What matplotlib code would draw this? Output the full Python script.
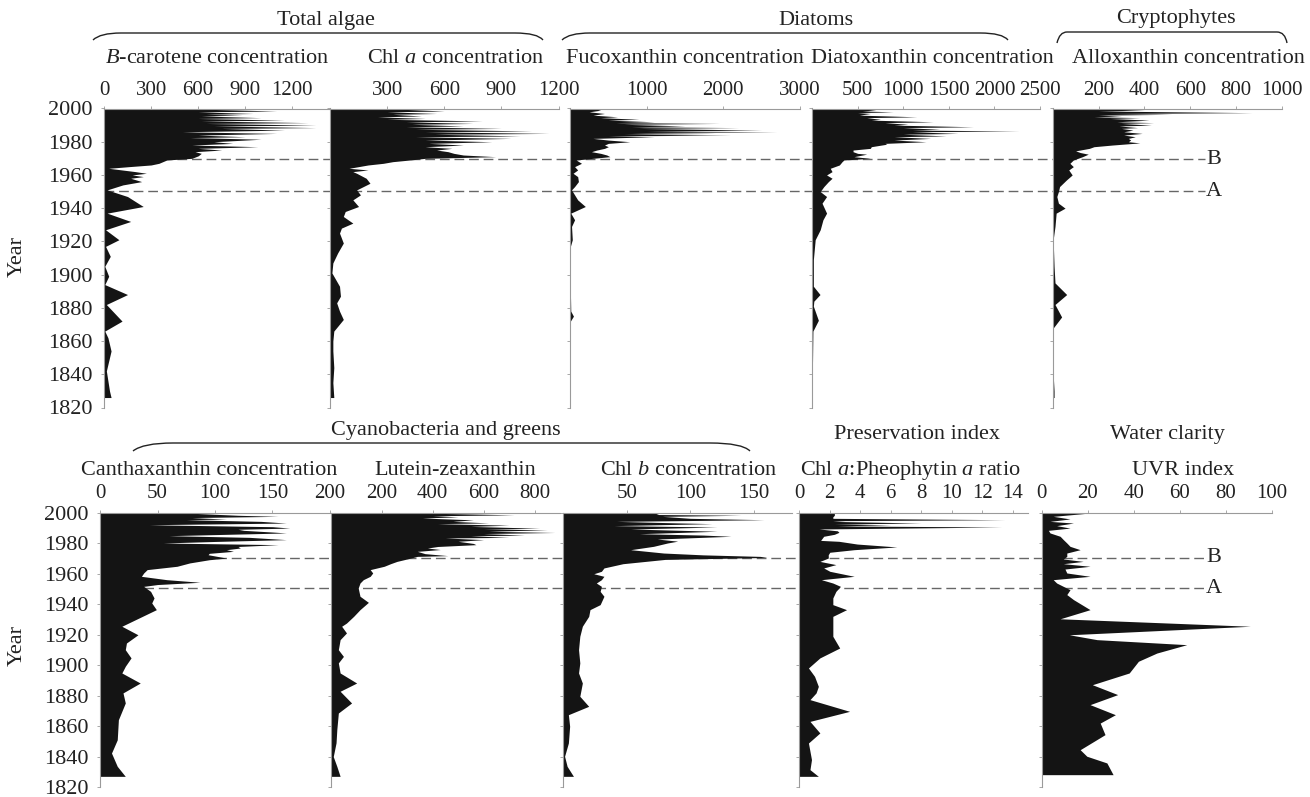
import matplotlib
matplotlib.use("Agg")
import matplotlib.pyplot as plt
from matplotlib.path import Path
from matplotlib.patches import PathPatch
from matplotlib.transforms import blended_transform_factory

plt.rcParams['font.family'] = 'Liberation Serif'
plt.rcParams['mathtext.fontset'] = 'custom'
plt.rcParams['mathtext.rm'] = 'Liberation Serif'
plt.rcParams['mathtext.it'] = 'Liberation Serif:italic'

# ---- data ----
bcar_year = [2000, 1998.5, 1998, 1997, 1996.5, 1996, 1995.5, 1994.5, 1994, 1993, 1992.5, 1991.5, 1991,
             1990, 1989.5, 1988.5, 1988, 1987, 1986, 1985, 1984, 1983, 1982.5, 1981.5, 1980, 1979, 1978,
             1977, 1976, 1975, 1974, 1973, 1971.5, 1970, 1969, 1967, 1966, 1965, 1964, 1962, 1961, 1960,
             1959, 1958, 1956, 1954, 1951, 1947, 1941, 1937, 1932, 1927, 1921, 1917, 1911, 1905, 1899,
             1894, 1888, 1882, 1872, 1866, 1862, 1854, 1848, 1842, 1836, 1830, 1826]
bcar_val = [450, 1100, 600, 950, 650, 880, 620, 1000, 600, 1150, 620, 1300, 650,
            1350, 700, 1350, 750, 1150, 500, 1100, 600, 900, 550, 1000, 700, 820, 560,
            980, 600, 750, 580, 620, 600, 560, 400, 350, 300, 160, 30, 200, 270, 180,
            250, 170, 240, 120, 20, 150, 250, 20, 170, 10, 95, 10, 40, 5, 30,
            5, 150, 15, 115, 5, 25, 45, 30, 15, 25, 35, 45]

chla_year = [2000, 1998.5, 1998, 1997, 1996.5, 1995.5, 1995, 1994, 1993.5, 1992.5, 1992, 1991, 1990.5,
             1989.5, 1989, 1988, 1987.5, 1986.5, 1986, 1985, 1984.5, 1983.5, 1983, 1982, 1981, 1980,
             1979, 1978, 1977, 1976, 1975, 1974, 1973, 1972, 1971, 1970, 1969, 1968, 1967, 1966, 1965,
             1964, 1963, 1962, 1961, 1958, 1955, 1951, 1948, 1945, 1941, 1938, 1935, 1931, 1928, 1925,
             1919, 1913, 1907, 1901, 1897, 1893, 1887, 1883, 1878, 1873, 1866, 1860, 1854, 1844, 1835,
             1826]
chla_val = [280, 600, 300, 560, 330, 480, 250, 500, 300, 800, 400, 750, 430,
            700, 400, 900, 450, 1060, 500, 1150, 550, 1000, 450, 950, 500, 850,
            520, 700, 500, 640, 560, 620, 650, 700, 870, 500, 420, 330, 280, 200, 150,
            100, 200, 120, 140, 190, 210, 140, 160, 120, 150, 80, 70, 120, 60, 50,
            70, 40, 15, 10, 30, 50, 55, 35, 50, 70, 20, 15, 15, 20, 15,
            20]

fuco_year = [2000, 1999, 1998, 1997, 1996, 1995, 1994.5, 1993.5, 1993, 1992, 1991.5, 1991, 1990.5,
             1989.5, 1989, 1988.5, 1988, 1987, 1986.5, 1986, 1985.5, 1985, 1984.5, 1984, 1983.5, 1983,
             1982, 1981, 1980, 1979, 1978, 1977, 1976, 1975, 1974, 1973, 1972, 1971, 1970, 1969, 1967,
             1965, 1963, 1961, 1959, 1956, 1953, 1951, 1945, 1941, 1937, 1933, 1929, 1921, 1917, 1905,
             1890, 1878, 1875, 1872, 1860, 1826]
fuco_val = [300, 400, 250, 450, 300, 620, 400, 900, 500, 1100, 600, 1950, 700,
            1500, 800, 2200, 900, 2500, 1000, 2700, 800, 1900, 700, 2100, 500, 1100,
            300, 500, 780, 500, 450, 500, 450, 350, 280, 400, 480, 520, 300, 80, 150,
            60, 100, 40, 100, 110, 60, 20, 100, 200, 10, 60, 20, 30, 5, 5,
            5, 10, 45, 5, 3, 3]

diato_year = [2000, 1999, 1998.5, 1998, 1997.5, 1997, 1996, 1995, 1994.5, 1993.5, 1993, 1992, 1991.5,
              1990.5, 1990, 1989, 1988.5, 1987.5, 1987, 1986.5, 1986, 1985, 1984.5, 1983.5, 1983, 1982,
              1981, 1980, 1979, 1978.5, 1977, 1976, 1975, 1974, 1973, 1972.5, 1971, 1970, 1969, 1968,
              1966, 1964, 1962, 1960, 1958, 1956, 1953, 1950, 1947, 1943, 1937, 1933, 1927, 1921, 1909,
              1893, 1888, 1884, 1881, 1872.5, 1866, 1845, 1826]
diato_val = [480, 700, 550, 890, 500, 640, 520, 1150, 600, 750, 650, 1330, 800,
             1050, 900, 1770, 1000, 1400, 1100, 2270, 1100, 1600, 1000, 1470, 900, 1300,
             900, 1250, 800, 820, 650, 640, 450, 450, 500, 600, 460, 640, 350, 330,
             300, 200, 220, 160, 220, 180, 130, 90, 160, 110, 160, 120, 90, 35, 15,
             15, 88, 20, 15, 70, 10, 5, 5]

allo_year = [2000, 1999, 1998.5, 1997.5, 1997, 1996.5, 1996, 1995.5, 1995, 1994.5, 1994, 1993, 1992,
             1991.5, 1991, 1990, 1989.5, 1988.5, 1988, 1987, 1986, 1985, 1984, 1983, 1982, 1981, 1980,
             1979.3, 1978, 1977, 1976, 1974.5, 1973.5, 1972.5, 1971, 1969, 1967, 1965, 1963, 1960,
             1957, 1953, 1950, 1947, 1943, 1940, 1937, 1929, 1921, 1905, 1895, 1888, 1882, 1874.5,
             1868, 1850, 1840, 1830, 1826]
allo_val = [150, 400, 200, 870, 250, 520, 200, 300, 180, 380, 250, 420, 280,
            440, 300, 430, 290, 370, 300, 350, 310, 390, 310, 360, 330, 340, 330,
            380, 260, 180, 160, 100, 120, 155, 130, 90, 75, 90, 70, 85,
            60, 30, 25, 18, 25, 54, 15, 10, 2, 6, 10, 61, 10, 39,
            3, 3, 2, 6, 6]

cantha_year = [2000, 1998.5, 1997.8, 1997, 1996, 1995.6, 1994.5, 1993.4, 1992.3, 1991, 1990.1, 1989.3,
               1988.6, 1987.5, 1986.9, 1985.1, 1984, 1982.5, 1981.3, 1980.3, 1979.2, 1978, 1977, 1975.9,
               1974.8, 1973.5, 1972.6, 1971.5, 1970.4, 1969.3, 1967.2, 1965, 1962.8, 1960.6, 1958.4,
               1956.2, 1954.5, 1953, 1951.8, 1948.5, 1944.2, 1940.9, 1936.5, 1925.6, 1920, 1914.6,
               1910.2, 1904.8, 1899.3, 1894.9, 1888.3, 1881.8, 1875.2, 1864.2, 1851, 1842.3, 1833.6,
               1827]
cantha_val = [75, 120, 155, 80, 110, 75, 140, 162, 43, 150, 165, 120,
              125, 150, 162, 60, 130, 162, 100, 55, 155, 120, 122, 110,
              116, 95, 94, 102, 110, 95, 78, 67, 41, 38, 36,
              58, 87, 50, 38, 44, 47, 45, 49, 19, 33, 23,
              22, 27, 22, 19, 35, 20, 22, 16, 15, 10, 15,
              22]

lutein_year = [2000, 1998.8, 1998.2, 1997.5, 1996.7, 1995.5, 1994.5, 1993.5, 1993, 1992, 1991.2, 1990,
               1989.5, 1989, 1988, 1987.2, 1986.5, 1985.5, 1985, 1984, 1983.6, 1982.5, 1981.4, 1980,
               1979.2, 1978, 1977, 1976, 1974.8, 1973.3, 1972, 1971.5, 1969.8, 1968.2, 1966.7, 1965,
               1962.8, 1960.6, 1958.4, 1956.2, 1954, 1950.7, 1945.3, 1941.3, 1936.5, 1932.1, 1927.7,
               1925.6, 1921.2, 1916.8, 1910.2, 1905.8, 1901.5, 1894.9, 1888.3, 1882.9, 1875.2, 1868.6,
               1857.7, 1849, 1840, 1833.6, 1827]
lutein_val = [350, 720, 400, 500, 360, 560, 480, 620, 420, 700, 550, 820,
              600, 850, 620, 880, 600, 760, 550, 700, 450, 600, 500, 560,
              570, 420, 380, 430, 340, 370, 460, 340, 300, 260, 235, 210,
              155, 165, 155, 128, 115, 108, 115, 148, 115, 90, 62,
              43, 62, 37, 30, 50, 30, 37, 102, 37, 82, 30,
              24, 21, 10, 24, 37]

chlb_year = [2000, 1999, 1998.5, 1997.8, 1996.5, 1995.6, 1994.5, 1993.5, 1993, 1991.7, 1990.8, 1989.5,
             1988, 1986.4, 1985.5, 1984.7, 1982.9, 1981.5, 1980.3, 1978.1, 1975.9, 1973.7, 1972.5,
             1971.5, 1970.8, 1969.5, 1966.7, 1963.9, 1961.7, 1960.1, 1958.4, 1956.2, 1954, 1951.8,
             1948.5, 1945.3, 1939.8, 1936.5, 1932.1, 1925.6, 1919, 1910.2, 1901.5, 1894.9, 1888.3,
             1879.6, 1873, 1867.5, 1859.9, 1848.9, 1840.2, 1833.6, 1827]
chlb_val = [72, 75, 140, 78, 100, 158, 42, 90, 117, 40, 121, 53,
            121, 60, 110, 132, 74, 90, 82, 71, 53, 79, 110,
            155, 160, 80, 47, 32, 30, 24, 32, 30, 26, 30,
            29, 32, 29, 21, 20, 15, 13, 12, 13, 12, 15,
            13, 20, 4, 5, 4, 1, 3, 8]

pheo_year = [2000, 1998.5, 1997.5, 1996.5, 1995.6, 1995, 1994.5, 1993.4, 1992.8, 1992.3, 1991.5, 1990.8,
             1989.5, 1988.3, 1987.3, 1986, 1984.7, 1982, 1981.4, 1979.6, 1977.7, 1975.9, 1974.2, 1972.6,
             1970.4, 1968.2, 1966.1, 1963.9, 1961.7, 1958.4, 1956.2, 1954, 1951.8, 1948.5, 1944.2,
             1939.8, 1936.5, 1932.1, 1925.6, 1919, 1911.3, 1904.8, 1898.2, 1892.7, 1886.1, 1881.8,
             1877.4, 1869.7, 1863.1, 1855.5, 1848.9, 1838, 1831.4, 1827]
pheo_val = [2.3, 2.3, 2.2, 2.2, 13.5, 3, 2.2, 8, 2.3, 6, 2.5, 13.3,
            1.3, 2.5, 2.6, 2.3, 1.6, 1.4, 2.6, 3.8, 6.4, 3.6, 2, 1.9,
            1.9, 1.35, 2.4, 1.6, 2, 3.6, 1.45, 2.2, 2.7, 2.4, 2.2,
            2.2, 3.1, 2.2, 2.2, 2.2, 2.65, 1.35, 0.6, 1, 1.25, 1.1,
            0.7, 3.3, 0.7, 1.35, 0.6, 0.8, 0.7, 1.25]

uvr_year = [2000, 1997.8, 1996.1, 1994.5, 1993.4, 1991.7, 1990.1, 1988.6, 1986.9, 1984.7, 1982.5,
            1980.3, 1978.1, 1975.9, 1973.7, 1971.5, 1969.8, 1968.2, 1966.7, 1965, 1963.2, 1960.6,
            1958.4, 1956.2, 1954, 1951.8, 1949.6, 1946.4, 1943.1, 1936.5, 1930.5, 1925.6, 1920,
            1916.8, 1913.5, 1908, 1902.6, 1894.9, 1887.2, 1880.7, 1874.1, 1867.5, 1862, 1854.4,
            1844.5, 1840.2, 1835.8, 1828.1]
uvr_val = [21, 5, 12.3, 3.6, 13.8, 6.5, 12.3, 2.9, 3.6, 8, 9.4,
           10.9, 12.3, 16.7, 10.9, 10.9, 9.4, 18, 9.4, 21, 10.1, 10.9,
           21, 5, 6.5, 9.4, 12.3, 10.9, 13.8, 21, 8, 90.6, 12,
           24, 63, 50, 42, 38, 22, 33, 21, 32, 25.4, 27.5,
           16.7, 19.6, 28.3, 31]

zone_labels = ['B', 'A']
zone_years_top = [1969.3, 1950.3]
zone_years_bottom = [1970.6, 1950.5]

W, H = 1310, 797
FS = 16      # titles
TFS = 15     # x tick labels
GREY = '#9a9a9a'

fig = plt.figure(figsize=(W / 100, H / 100), dpi=100)

# background axes in pixel units: headings, braces, zone lines
bg = fig.add_axes([0, 0, 1, 1], zorder=-1)
bg.set_xlim(0, W)
bg.set_ylim(H, 0)
bg.axis('off')
bg.patch.set_alpha(0)


def panel(x0, x1, y0, y1, years, vals, xmax, ticks, show_years, pad):
    ax = fig.add_axes([x0 / W, 1 - y1 / H, (x1 - x0) / W, (y1 - y0) / H])
    ax.set_facecolor('none')
    ax.fill_betweenx(years, 0, vals, color='#141414', linewidth=0)
    ax.set_xlim(0, xmax)
    ax.set_ylim(1820, 2000)
    ax.xaxis.tick_top()
    ax.set_xticks(ticks)
    ax.set_yticks(range(1820, 2001, 20))
    ax.spines['right'].set_visible(False)
    ax.spines['bottom'].set_visible(False)
    for s in ('top', 'left'):
        ax.spines[s].set_color(GREY)
        ax.spines[s].set_linewidth(0.8)
    ax.tick_params(axis='x', direction='out', length=2.5, width=0.6, color=GREY,
                   labelsize=TFS, pad=pad, labelcolor='#222')
    ax.tick_params(axis='y', direction='out', length=2.5, width=0.6, color=GREY,
                   labelsize=FS, pad=6, labelcolor='#222', labelleft=show_years)
    return ax


top = (108.5, 407.5)
bot = (513, 787)

a1 = panel(104, 330, *top, bcar_year, bcar_val, 1440, [0, 300, 600, 900, 1200], True, 3.5)
panel(330, 558.5, *top, chla_year, chla_val, 1200, [300, 600, 900, 1200], False, 3.5)
panel(570, 800, *top, fuco_year, fuco_val, 3000, [1000, 2000, 3000], False, 3.5)
panel(812, 1040, *top, diato_year, diato_val, 2500, [500, 1000, 1500, 2000, 2500], False, 3.5)
panel(1052.7, 1282, *top, allo_year, allo_val, 1000, [200, 400, 600, 800, 1000], False, 3.5)

a6 = panel(100, 330, *bot, cantha_year, cantha_val, 200, [0, 50, 100, 150, 200], True, 4.5)
panel(330.7, 560, *bot, lutein_year, lutein_val, 900, [200, 400, 600, 800], False, 4.5)
panel(563.3, 792, *bot, chlb_year, chlb_val, 180, [50, 100, 150], False, 4.5)
panel(799.3, 1028, *bot, pheo_year, pheo_val, 15, [0, 2, 4, 6, 8, 10, 12, 14], False, 4.5)
panel(1041.7, 1272, *bot, uvr_year, uvr_val, 100, [0, 20, 40, 60, 80, 100], False, 4.5)

# zone lines A / B (drawn behind the black fills)
for row_ax, zyears, xstart in ((a1, zone_years_top, 104), (a6, zone_years_bottom, 100)):
    tr = blended_transform_factory(bg.transData, row_ax.transData)
    for lab, yr in zip(zone_labels, zyears):
        bg.plot([xstart, 1205], [yr, yr], transform=tr, color='#666666', lw=1.0,
                dashes=(7, 3.5), zorder=1)
        bg.text(1206, yr, lab, transform=tr, fontsize=FS, ha='left', va='center',
                color='#222')


def brace(xa, xb, y_line, y_end, r):
    verts = [(xa, y_end), (xa + 0.25 * r, y_line), (xa + r, y_line),
             (xb - r, y_line), (xb - 0.2 * r, y_line), (xb, y_end)]
    codes = [Path.MOVETO, Path.CURVE3, Path.CURVE3, Path.LINETO, Path.CURVE3, Path.CURVE3]
    bg.add_patch(PathPatch(Path(verts, codes), fill=False, lw=1.0, color='#222'))


brace(93, 543, 33, 40, 28)
brace(562, 1008, 33, 40, 28)
brace(1057, 1287, 32, 43, 10)
brace(133, 750, 443, 451, 40)

headings = [(326, 20, 'Total algae'), (816, 20, 'Diatoms'), (1176, 18, 'Cryptophytes'),
            (446, 430, 'Cyanobacteria and greens'), (917, 434, 'Preservation index'),
            (1167, 434, 'Water clarity'),
            (217, 58, '$B$-carotene concentration'), (456, 58, 'Chl $a$ concentration'),
            (685, 58, 'Fucoxanthin concentration'), (932, 58, 'Diatoxanthin concentration'),
            (1188, 58, 'Alloxanthin concentration'),
            (209, 470, 'Canthaxanthin concentration'), (455, 470, 'Lutein-zeaxanthin'),
            (689, 470, 'Chl $b$ concentration'), (910, 470, 'Chl $a$:Pheophytin $a$ ratio'),
            (1183, 470, 'UVR index')]
for x, y, s in headings:
    bg.text(x, y, s, fontsize=FS, ha='center', va='center', color='#222')

bg.text(17, 256, 'Year', fontsize=FS, rotation=90, ha='center', va='center', color='#222')
bg.text(17, 645, 'Year', fontsize=FS, rotation=90, ha='center', va='center', color='#222')

fig.savefig('out.png', dpi=100)
